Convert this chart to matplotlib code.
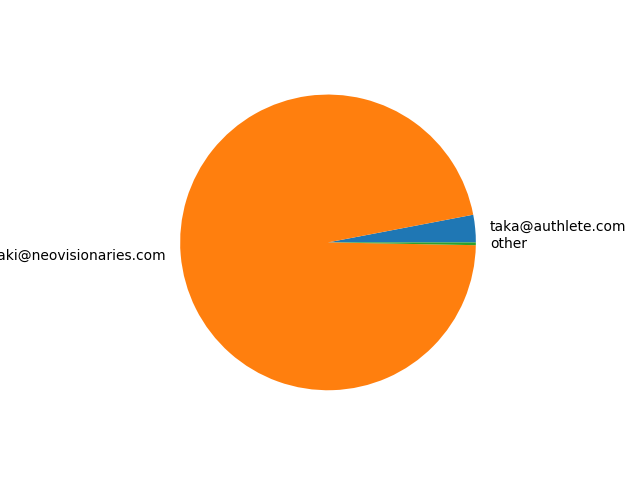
import matplotlib
matplotlib.use("Agg")
import matplotlib.pyplot as plt

labels = ["taka@authlete.com", "takahiko.kawasaki@neovisionaries.com", "other"]
values = [3.0, 96.7, 0.3]

fig, ax = plt.subplots(figsize=(6.4, 4.8), dpi=100)
ax.pie(values, labels=labels)
fig.savefig("out.png")
